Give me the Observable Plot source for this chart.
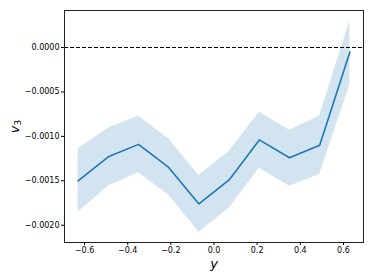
<!DOCTYPE html>
<html>
<head>
<meta charset="utf-8">
<script src="https://cdn.jsdelivr.net/npm/d3@7"></script>
<script src="https://cdn.jsdelivr.net/npm/@observablehq/plot@0.6"></script>
<style>
  html, body { margin: 0; padding: 0; background: white; }
</style>
</head>
<body>
<div id="chart"></div>
<script>
const xs    = [-0.63, -0.49, -0.35, -0.21, -0.07, 0.07, 0.21, 0.35, 0.49, 0.63];
const mean  = [-0.00150, -0.00123, -0.00109, -0.00135, -0.00176, -0.00149, -0.00104, -0.00124, -0.00110, -0.00005];
const lower = [-0.00185, -0.00156, -0.00141, -0.00166, -0.00208, -0.00181, -0.00136, -0.00156, -0.00143, -0.00042];
const upper = [-0.00114, -0.00091, -0.00077, -0.00103, -0.00144, -0.00117, -0.00073, -0.00093, -0.00077, 0.00030];
const xTicks = [-0.6, -0.4, -0.2, 0, 0.2, 0.4, 0.6];
const yTicks = [0, -0.0005, -0.001, -0.0015, -0.002];

const data = xs.map((x, i) => ({x, mean: mean[i], lo: lower[i], hi: upper[i]}));

const plot = Plot.plot({
  width: 374,
  height: 280,
  marginLeft: 64,
  marginRight: 11,
  marginTop: 10,
  marginBottom: 38,
  style: {fontFamily: "DejaVu Sans", fontSize: "8px", color: "#000", background: "white"},
  x: {domain: [-0.693, 0.693]},
  y: {domain: [-0.002194, 0.000416]},
  marks: [
    Plot.areaY(data, {x: "x", y1: "lo", y2: "hi", fill: "#1f77b4", fillOpacity: 0.2}),
    Plot.ruleY([0], {stroke: "#000", strokeWidth: 1.1, strokeDasharray: "4,2"}),
    Plot.lineY(data, {x: "x", y: "mean", stroke: "#1f77b4", strokeWidth: 1.6}),
    Plot.frame({stroke: "#222", strokeWidth: 1}),
    Plot.axisX({ticks: xTicks, tickFormat: d3.format(".1f"), tickSize: 3, tickPadding: 2,
      label: "y", labelAnchor: "center", labelOffset: 25}),
    Plot.axisY({ticks: yTicks, tickFormat: d3.format(".4f"), tickSize: 3, tickPadding: 2,
      label: "v3", labelAnchor: "center", labelOffset: 55})
  ]
});
document.getElementById("chart").appendChild(plot);

// style axis labels like matplotlib mathtext
const svg = d3.select(plot);
svg.selectAll('g[aria-label="x-axis label"] text').each(function() {
  const t = d3.select(this);
  t.text(null).attr("font-size", 13);
  t.append("tspan").attr("font-style", "italic").text("y");
});
svg.selectAll('g[aria-label="y-axis label"] text').each(function() {
  const t = d3.select(this);
  t.text(null).attr("font-size", 13);
  t.append("tspan").attr("font-style", "italic").text("v");
  t.append("tspan").attr("font-size", 9).attr("dy", "0.3em").text("3");
});
</script>
</body>
</html>
